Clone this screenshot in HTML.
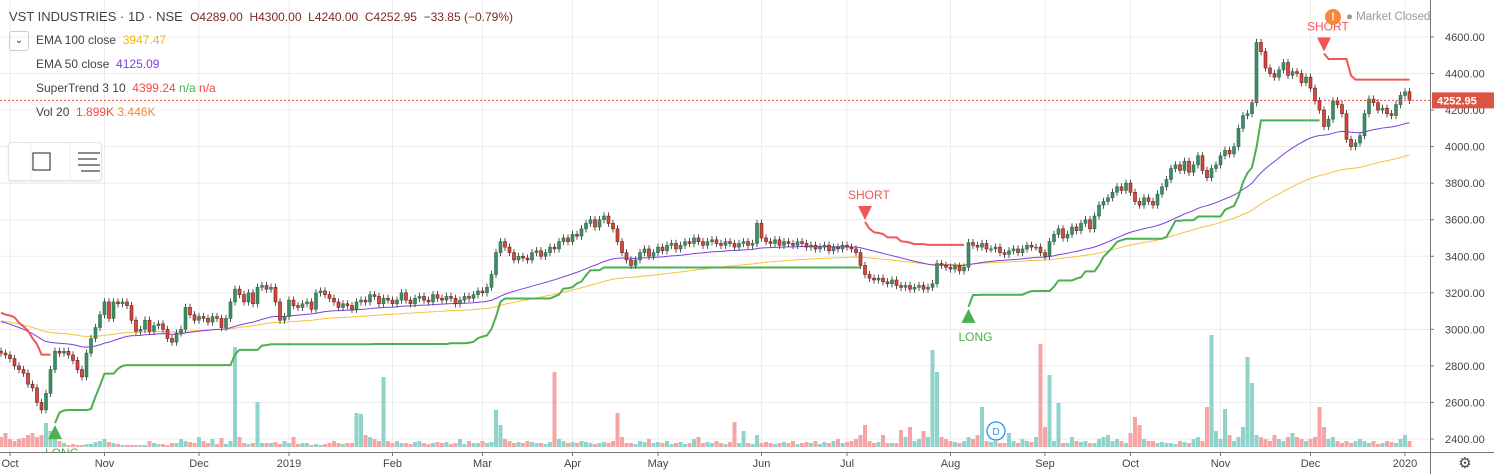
<!DOCTYPE html>
<html><head><meta charset="utf-8">
<style>
body{margin:0;background:#fff;width:1494px;height:474px;overflow:hidden;font-family:"Liberation Sans",sans-serif;}
#wrap{position:relative;width:1494px;height:474px;}
svg{position:absolute;left:0;top:0;}
.t{position:absolute;white-space:nowrap;font-size:12px;color:#444;}
</style></head><body>
<div id="wrap">
<svg id="chart" width="1494" height="474"></svg>
<div class="t" style="left:9px;top:9px;font-size:13px;">VST INDUSTRIES · 1D · NSE &nbsp;<span style="color:#7a2a22;font-size:12px">O4289.00 &nbsp;H4300.00 &nbsp;L4240.00 &nbsp;C4252.95 &nbsp;−33.85 (−0.79%)</span></div>
<div style="position:absolute;left:9px;top:31px;width:18px;height:18px;border:1px solid #ccc;border-radius:3px;font-size:10px;text-align:center;line-height:18px;color:#333">⌄</div>
<div class="t" style="left:36px;top:33px">EMA 100 close &nbsp;<span style="color:#f5b800">3947.47</span></div>
<div class="t" style="left:36px;top:57px">EMA 50 close &nbsp;<span style="color:#7b3fdc">4125.09</span></div>
<div class="t" style="left:36px;top:81px">SuperTrend 3 10 &nbsp;<span style="color:#f04848">4399.24</span> <span style="color:#4caf50">n/a</span> <span style="color:#f04848">n/a</span></div>
<div class="t" style="left:36px;top:105px">Vol 20 &nbsp;<span style="color:#f04848">1.899K</span> <span style="color:#f5883a">3.446K</span></div>
<div style="position:absolute;left:8px;top:142px;width:92px;height:37px;border:1px solid #e4e4e4;border-radius:4px;background:#fff;box-shadow:0 1px 2px rgba(0,0,0,.08)">
 <svg width="92" height="37" style="position:relative">
  <rect x="24" y="10" width="17" height="17" fill="none" stroke="#444" stroke-width="1.2"/>
  <line x1="22" y1="0" x2="22" y2="37" stroke="#eee"/><line x1="61" y1="0" x2="61" y2="37" stroke="#eee"/>
  <g stroke="#444" stroke-width="1.2"><line x1="69" y1="10" x2="91" y2="10"/><line x1="69" y1="16" x2="88" y2="16"/><line x1="69" y1="22" x2="91" y2="22"/><line x1="72" y1="28" x2="91" y2="28"/></g>
 </svg>
</div>
<div style="position:absolute;left:1325px;top:9px;width:16px;height:16px;border-radius:8px;background:#f5883a;color:#fff;font-size:11px;font-weight:bold;text-align:center;line-height:16px">!</div>
<div class="t" style="left:1346px;top:11px;color:#999;font-size:11.5px">● Market Closed</div>
</div>
<script>
const closes=[2870,2860,2840,2800,2780,2760,2700,2680,2600,2560,
2650,2780,2880,2870,2880,2860,2830,2780,2740,2870,
2950,3010,3080,3150,3060,3150,3140,3150,3130,3050,
2990,3000,3050,2990,3020,3030,3000,2950,2930,2980,
3000,3120,3080,3050,3070,3060,3040,3070,3060,3010,
3060,3150,3220,3190,3150,3200,3140,3230,3240,3220,
3230,3150,3050,3070,3160,3130,3120,3140,3150,3110,
3200,3210,3190,3170,3150,3120,3140,3130,3110,3150,
3160,3150,3190,3180,3140,3170,3160,3140,3160,3200,
3160,3140,3170,3180,3160,3150,3190,3170,3160,3180,
3170,3140,3160,3180,3170,3190,3210,3200,3230,3300,
3420,3480,3450,3420,3380,3400,3390,3380,3420,3430,
3400,3420,3450,3440,3480,3500,3480,3520,3510,3550,
3580,3600,3560,3600,3620,3580,3550,3480,3420,3380,
3350,3380,3420,3440,3400,3420,3450,3430,3460,3470,
3440,3460,3480,3470,3500,3480,3460,3480,3490,3470,
3460,3480,3470,3450,3470,3480,3460,3470,3580,3500,
3480,3470,3490,3460,3480,3470,3460,3480,3470,3450,
3460,3440,3450,3460,3430,3450,3440,3460,3450,3440,
3420,3350,3300,3280,3270,3280,3260,3250,3270,3240,
3230,3240,3220,3230,3240,3220,3230,3250,3360,3350,
3340,3330,3345,3320,3340,3475,3460,3450,3470,3440,
3440,3450,3420,3410,3430,3440,3420,3440,3460,3450,
3450,3420,3400,3480,3520,3550,3500,3520,3560,3540,
3580,3600,3550,3620,3680,3700,3720,3750,3780,3760,
3800,3750,3700,3680,3720,3700,3680,3740,3780,3820,
3880,3900,3870,3920,3860,3900,3950,3870,3830,3880,
3900,3950,3980,3960,4000,4100,4170,4180,4240,4570,
4520,4430,4400,4380,4420,4460,4390,4410,4400,4350,
4380,4320,4250,4200,4110,4150,4250,4230,4180,4040,
4000,4020,4060,4180,4260,4240,4200,4210,4180,4170,
4230,4280,4300,4252.95];
const volumes=[10,14,8,6,8,9,12,14,10,12,
24,16,9,6,4,2,3,2,2,3,
3,5,6,8,5,4,3,2,2,2,
2,2,2,6,4,3,3,2,4,4,
8,6,5,4,10,6,4,8,3,9,
3,6,100,10,4,3,4,45,4,4,
4,5,3,6,4,10,3,4,4,2,
3,2,3,4,6,4,3,4,4,34,
33,12,10,8,6,70,6,4,6,4,
4,3,5,6,4,3,4,5,4,5,
3,4,8,3,6,4,4,6,4,5,
37,22,8,6,4,5,4,6,5,4,
4,3,5,75,8,6,4,5,4,6,
5,4,3,4,5,4,6,34,10,4,
4,3,6,5,8,4,5,4,6,3,
4,5,3,4,8,10,4,5,4,6,
4,3,5,25,4,16,4,3,12,4,
5,4,3,4,5,4,6,3,4,5,
4,6,3,5,4,6,8,4,5,6,
8,12,22,6,4,5,12,4,4,4,
17,10,20,6,8,16,10,97,75,10,
8,6,5,4,6,10,8,12,40,6,
5,6,4,4,14,6,4,8,6,5,
10,103,20,72,6,44,4,4,10,6,
5,6,4,4,8,10,12,6,8,6,
4,14,30,22,8,6,6,4,5,4,
4,3,6,5,4,8,10,6,40,112,
16,8,38,12,6,10,20,90,64,12,
10,8,6,12,8,6,10,14,10,8,
6,8,10,40,20,8,10,6,4,6,
4,6,8,6,4,6,3,4,6,5,
4,8,12,6];
const priceTicks=[2400,2600,2800,3000,3200,3400,3600,3800,4000,4200,4400,4600];
const monthLabels=["Oct","Nov","Dec","2019","Feb","Mar","Apr","May","Jun","Jul","Aug","Sep","Oct","Nov","Dec","2020"];
const monthStartIdx=[2,23,44,64,87,107,127,146,169,188,211,232,251,271,291,312];
const firstOpen=2880;
const emaSeed=3050;

const svg=document.getElementById('chart');
const NS='http://www.w3.org/2000/svg';
function mk(tag,attrs,parent){const e=document.createElementNS(NS,tag);for(const k in attrs)e.setAttribute(k,attrs[k]);(parent||svg).appendChild(e);return e;}
const xI=i=>1+i*4.5;
const yP=p=>439-(p-2400)*36.55/200;
const yV=v=>447-v*1.0;
const PW=1430;

priceTicks.forEach(p=>{const l=mk('line',{x1:0,x2:PW,y1:yP(p),y2:yP(p),stroke:'#ececec'});

});
monthStartIdx.forEach(i=>{const l=mk('line',{x1:xI(i),x2:xI(i),y1:0,y2:452,stroke:'#ececec'});

});

const opens=closes.map((c,i)=>i===0?firstOpen:closes[i-1]);
const W=20, ATRPAD=22;
const highs=closes.map((c,i)=>Math.max(c,opens[i])+W);
const lows=closes.map((c,i)=>Math.min(c,opens[i])-W);

volumes.forEach((v,i)=>{const up=closes[i]>=opens[i];
const r=mk('rect',{x:xI(i)-2,y:yV(v),width:4,height:v*1.0,fill:up?'#8fd3cb':'#f5a5a5'});

});

function ema(n){const k=2/(n+1);let e=emaSeed;return closes.map(c=>e=c*k+e*(1-k));}
function poly(vals,color,w,name){const pts=vals.map((v,i)=>xI(i)+','+yP(v)).join(' ');
const p=mk('polyline',{points:pts,fill:'none',stroke:color,'stroke-width':w});

}
poly(ema(100),'#f7c23a',1,'ema-100-line');
poly(ema(50),'#7b3fdc',1,'ema-50-line');

const n=10,m=3;let atr=0,up=null,dn=null,trend=-1;const stv=[],stt=[];
closes.forEach((c,i)=>{const pc=i?closes[i-1]:opens[0];
const hh=highs[i]+ATRPAD/2, ll=lows[i]-ATRPAD/2;
const tr=Math.max(hh-ll,Math.abs(hh-pc),Math.abs(ll-pc));
atr=i<n?(atr*i+tr)/(i+1):(atr*(n-1)+tr)/n;
const hl=(highs[i]+lows[i])/2;let u=hl-m*atr,d=hl+m*atr;
if(up!==null&&pc>up)u=Math.max(u,up);
if(dn!==null&&pc<dn)d=Math.min(d,dn);
const pu=up,pd=dn;
if(pd!==null&&trend===-1&&c>pd)trend=1;else if(pu!==null&&trend===1&&c<pu)trend=-1;
up=u;dn=d;stt.push(trend);stv.push(trend===1?u:d);});
let seg=[];
function flush(t){if(seg.length>1){const p=mk('polyline',{points:seg.join(' '),fill:'none',stroke:t===1?'#4caf50':'#f25555','stroke-width':2});

}seg=[];}
stv.forEach((v,i)=>{if(i>0&&stt[i]!==stt[i-1]){flush(stt[i-1]);
const x=xI(i);
if(stt[i]===1){const y=yP(stv[i])+2;
const tri=mk('polygon',{points:`${x-7},${y+14} ${x+7},${y+14} ${x},${y}`,fill:'#4caf50'});


const t=mk('text',{x:x-10,y:y+32,fill:'#4caf50','font-size':12,'font-family':'Liberation Sans'});t.textContent='LONG';

}
else{const y=yP(stv[i])-2;
const tri=mk('polygon',{points:`${x-7},${y-14} ${x+7},${y-14} ${x},${y}`,fill:'#f25555'});


const t=mk('text',{x:x-17,y:y-21,fill:'#f25555','font-size':12,'font-family':'Liberation Sans'});t.textContent='SHORT';

}}
seg.push(xI(i)+','+yP(v));});
flush(stt[stt.length-1]);

closes.forEach((c,i)=>{const o=opens[i],upC=c>=o,x=xI(i);
const col=upC?'#2f6e4d':'#6b1d17';
const wk=mk('line',{x1:x,x2:x,y1:yP(highs[i]),y2:yP(lows[i]),stroke:'#555','stroke-width':1});


const top=yP(Math.max(o,c)),h=Math.max(1,yP(Math.min(o,c))-top);
const b=mk('rect',{x:x-1.5,y:top,width:3,height:h,fill:upC?'#3d8c63':'#d8483c',stroke:col,'stroke-width':0.6});

});

const lp=closes[closes.length-1];
const dl=mk('line',{x1:0,x2:PW,y1:yP(lp),y2:yP(lp),stroke:'#e0443a','stroke-dasharray':'2,2'});



const ax=mk('rect',{x:PW,y:0,width:64,height:474,fill:'#fff'});


mk('line',{x1:PW+0.5,x2:PW+0.5,y1:0,y2:474,stroke:'#777'});
priceTicks.forEach(p=>{const y=yP(p);mk('line',{x1:PW,x2:PW+4,y1:y,y2:y,stroke:'#777'});
const t=mk('text',{x:PW+15,y:y+4,fill:'#444','font-size':11,'font-family':'Liberation Sans'});t.textContent=p.toFixed(2);

});
const pl=mk('rect',{x:PW+2,y:yP(lp)-8,width:62,height:16,fill:'#dc5446'});


const plt=mk('text',{x:PW+7,y:yP(lp)+4,fill:'#fff','font-size':11,'font-weight':'bold','font-family':'Liberation Sans'});plt.textContent=lp.toFixed(2);



const tb=mk('rect',{x:0,y:452,width:PW,height:22,fill:'#fff'});


mk('line',{x1:0,x2:1494,y1:452.5,y2:452.5,stroke:'#777'});
monthStartIdx.forEach((idx,k)=>{const x=xI(idx);mk('line',{x1:x,x2:x,y1:452,y2:456,stroke:'#777'});
const t=mk('text',{x:x,y:467,fill:'#444','font-size':11,'text-anchor':'middle','font-family':'Liberation Sans'});t.textContent=monthLabels[k];

});

const dc=mk('circle',{cx:996,cy:431,r:9,fill:'#fff',stroke:'#2196f3','stroke-width':1.3});


const dt=mk('text',{x:996,y:435,fill:'#2196f3','font-size':10,'text-anchor':'middle','font-family':'Liberation Sans'});dt.textContent='D';


const g=mk('text',{x:1465,y:468,fill:'#444','font-size':15,'text-anchor':'middle','font-family':'DejaVu Sans'});g.textContent='⚙';


</script>
</body></html>
